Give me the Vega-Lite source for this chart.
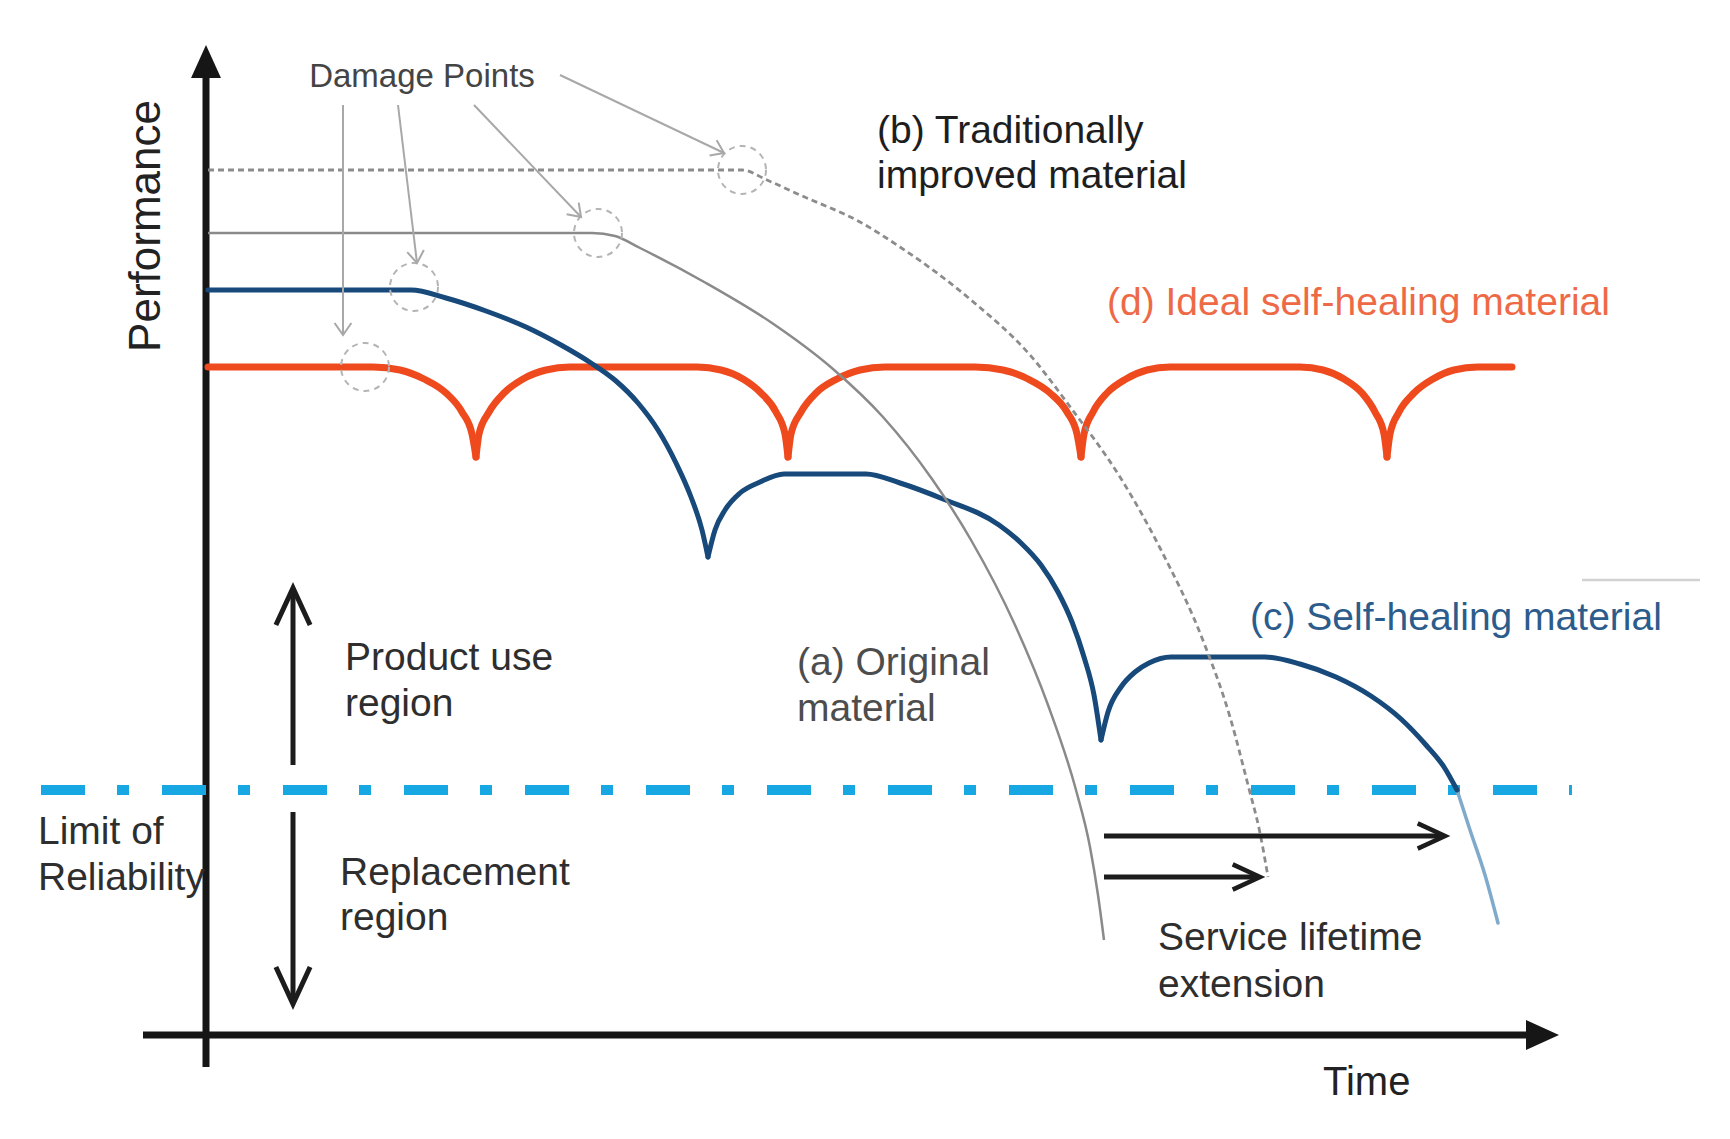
{
  "$schema": "https://vega.github.io/schema/vega-lite/v6.json",
  "width": 1730,
  "height": 1139,
  "autosize": "none",
  "padding": 0,
  "background": "white",
  "config": {"view": {"stroke": null}, "text": {"font": "Liberation Sans"}},
  "datasets": {
    "curves": [
      {"s":"d","g":1,"t":2,"p":668},{"s":"d","g":1,"t":167,"p":668},{"s":"d","g":1,"t":194,"p":665},{"s":"d","g":1,"t":218,"p":656},{"s":"d","g":1,"t":240,"p":642},{"s":"d","g":1,"t":256,"p":623},{"s":"d","g":1,"t":266,"p":601},{"s":"d","g":1,"t":270,"p":578},
      {"s":"d","g":2,"t":270,"p":578},{"s":"d","g":2,"t":273,"p":601},{"s":"d","g":2,"t":283,"p":623},{"s":"d","g":2,"t":298,"p":642},{"s":"d","g":2,"t":317,"p":656},{"s":"d","g":2,"t":340,"p":665},{"s":"d","g":2,"t":364,"p":668},{"s":"d","g":2,"t":491,"p":668},{"s":"d","g":2,"t":515,"p":665},{"s":"d","g":2,"t":537,"p":656},{"s":"d","g":2,"t":555,"p":642},{"s":"d","g":2,"t":570,"p":623},{"s":"d","g":2,"t":579,"p":601},{"s":"d","g":2,"t":582,"p":578},
      {"s":"d","g":3,"t":582,"p":578},{"s":"d","g":3,"t":585,"p":601},{"s":"d","g":3,"t":595,"p":623},{"s":"d","g":3,"t":610,"p":642},{"s":"d","g":3,"t":631,"p":656},{"s":"d","g":3,"t":654,"p":665},{"s":"d","g":3,"t":679,"p":668},{"s":"d","g":3,"t":769,"p":668},{"s":"d","g":3,"t":797,"p":665},{"s":"d","g":3,"t":822,"p":656},{"s":"d","g":3,"t":844,"p":642},{"s":"d","g":3,"t":861,"p":623},{"s":"d","g":3,"t":871,"p":601},{"s":"d","g":3,"t":875,"p":578},
      {"s":"d","g":4,"t":875,"p":578},{"s":"d","g":4,"t":878,"p":601},{"s":"d","g":4,"t":887,"p":623},{"s":"d","g":4,"t":901,"p":642},{"s":"d","g":4,"t":920,"p":656},{"s":"d","g":4,"t":941,"p":665},{"s":"d","g":4,"t":964,"p":668},{"s":"d","g":4,"t":1094,"p":668},{"s":"d","g":4,"t":1117,"p":665},{"s":"d","g":4,"t":1138,"p":656},{"s":"d","g":4,"t":1156,"p":642},{"s":"d","g":4,"t":1169,"p":623},{"s":"d","g":4,"t":1178,"p":601},{"s":"d","g":4,"t":1181,"p":578},
      {"s":"d","g":5,"t":1181,"p":578},{"s":"d","g":5,"t":1184,"p":601},{"s":"d","g":5,"t":1193,"p":623},{"s":"d","g":5,"t":1208,"p":642},{"s":"d","g":5,"t":1227,"p":656},{"s":"d","g":5,"t":1248,"p":665},{"s":"d","g":5,"t":1272,"p":668},{"s":"d","g":5,"t":1306,"p":668},

      {"s":"c","g":1,"t":2,"p":745},{"s":"c","g":1,"t":205,"p":745},{"s":"c","g":1,"t":240,"p":737},{"s":"c","g":1,"t":280,"p":724},{"s":"c","g":1,"t":320,"p":708},{"s":"c","g":1,"t":355,"p":690},{"s":"c","g":1,"t":385,"p":672},{"s":"c","g":1,"t":410,"p":654},{"s":"c","g":1,"t":432,"p":632},{"s":"c","g":1,"t":452,"p":605},{"s":"c","g":1,"t":470,"p":572},{"s":"c","g":1,"t":485,"p":538},{"s":"c","g":1,"t":496,"p":505},{"s":"c","g":1,"t":502,"p":478},
      {"s":"c","g":2,"t":502,"p":478},{"s":"c","g":2,"t":509,"p":505},{"s":"c","g":2,"t":519,"p":525},{"s":"c","g":2,"t":534,"p":542},{"s":"c","g":2,"t":554,"p":553},{"s":"c","g":2,"t":578,"p":561},{"s":"c","g":2,"t":660,"p":561},{"s":"c","g":2,"t":694,"p":552},{"s":"c","g":2,"t":737,"p":536},{"s":"c","g":2,"t":793,"p":510},{"s":"c","g":2,"t":815,"p":492},{"s":"c","g":2,"t":835,"p":470},{"s":"c","g":2,"t":852,"p":443},{"s":"c","g":2,"t":866,"p":413},{"s":"c","g":2,"t":878,"p":378},{"s":"c","g":2,"t":888,"p":340},{"s":"c","g":2,"t":895,"p":295},
      {"s":"c","g":3,"t":895,"p":295},{"s":"c","g":3,"t":902,"p":323},{"s":"c","g":3,"t":915,"p":348},{"s":"c","g":3,"t":929,"p":363},{"s":"c","g":3,"t":943,"p":372},{"s":"c","g":3,"t":965,"p":378},{"s":"c","g":3,"t":1059,"p":378},{"s":"c","g":3,"t":1094,"p":371},{"s":"c","g":3,"t":1130,"p":358},{"s":"c","g":3,"t":1165,"p":339},{"s":"c","g":3,"t":1195,"p":316},{"s":"c","g":3,"t":1220,"p":290},{"s":"c","g":3,"t":1238,"p":268},{"s":"c","g":3,"t":1251,"p":245},
      {"s":"ct","g":1,"t":1251,"p":245},{"s":"ct","g":1,"t":1264,"p":205},{"s":"ct","g":1,"t":1279,"p":160},{"s":"ct","g":1,"t":1292,"p":112},

      {"s":"a","g":1,"t":2,"p":802},{"s":"a","g":1,"t":386,"p":802},{"s":"a","g":1,"t":409,"p":799},{"s":"a","g":1,"t":434,"p":787},{"s":"a","g":1,"t":500,"p":752},{"s":"a","g":1,"t":566,"p":712},{"s":"a","g":1,"t":627,"p":666},{"s":"a","g":1,"t":677,"p":618},{"s":"a","g":1,"t":726,"p":556},{"s":"a","g":1,"t":765,"p":495},{"s":"a","g":1,"t":809,"p":410},{"s":"a","g":1,"t":842,"p":330},{"s":"a","g":1,"t":870,"p":245},{"s":"a","g":1,"t":884,"p":188},{"s":"a","g":1,"t":892,"p":140},{"s":"a","g":1,"t":898,"p":95},

      {"s":"b","g":1,"t":2,"p":865},{"s":"b","g":1,"t":536,"p":865},{"s":"b","g":1,"t":561,"p":855},{"s":"b","g":1,"t":594,"p":840},{"s":"b","g":1,"t":654,"p":813},{"s":"b","g":1,"t":694,"p":788},{"s":"b","g":1,"t":765,"p":735},{"s":"b","g":1,"t":824,"p":680},{"s":"b","g":1,"t":865,"p":627},{"s":"b","g":1,"t":914,"p":558},{"s":"b","g":1,"t":954,"p":487},{"s":"b","g":1,"t":998,"p":392},{"s":"b","g":1,"t":1024,"p":318},{"s":"b","g":1,"t":1042,"p":250},{"s":"b","g":1,"t":1054,"p":202},{"s":"b","g":1,"t":1062,"p":158}
    ],
    "circles": [{"t":159,"p":668},{"t":208,"p":748},{"t":392,"p":802},{"t":536,"p":865}],
    "pointers": [
      {"t":137,"p":930,"t2":137,"p2":700,"dir":90},
      {"t":192,"p":930,"t2":211,"p2":772,"dir":83},
      {"t":268,"p":930,"t2":375,"p2":818,"dir":46},
      {"t":354,"p":960,"t2":518,"p2":882,"dir":25}
    ],
    "axes": [{"t":0,"p":960,"t2":0,"p2":-32},{"t":-63,"p":0,"t2":1322,"p2":0}],
    "axisHeads": [{"t":0,"p":973,"dir":270},{"t":1336,"p":0,"dir":0}],
    "limit": [{"t":-165,"p":245,"t2":1366,"p2":245}],
    "frame": [{"t":1376,"p":455,"t2":1494,"p2":455}],
    "arrows": [
      {"t":87,"p":270,"t2":87,"p2":444},
      {"t":87,"p":223,"t2":87,"p2":34},
      {"t":898,"p":199,"t2":1237,"p2":199},
      {"t":898,"p":158,"t2":1052,"p2":158}
    ],
    "bigHeads": [{"t":87,"p":428,"dir":270},{"t":87,"p":50,"dir":90}],
    "smallHeads": [{"t":1225,"p":199,"dir":0},{"t":1040,"p":158,"dir":0}],
    "labels": [
      {"t":671,"p":892,"text":"(b) Traditionally","kind":"b"},
      {"t":671,"p":847,"text":"improved material","kind":"b"},
      {"t":591,"p":360,"text":"(a) Original","kind":"a"},
      {"t":591,"p":314,"text":"material","kind":"a"},
      {"t":139,"p":365,"text":"Product use","kind":"region"},
      {"t":139,"p":319,"text":"region","kind":"region"},
      {"t":134,"p":150,"text":"Replacement","kind":"region"},
      {"t":134,"p":105,"text":"region","kind":"region"},
      {"t":-168,"p":191,"text":"Limit of","kind":"region"},
      {"t":-168,"p":145,"text":"Reliability","kind":"region"},
      {"t":952,"p":85,"text":"Service lifetime","kind":"region"},
      {"t":952,"p":38,"text":"extension","kind":"region"},
      {"t":901,"p":720,"text":"(d) Ideal self-healing material","kind":"d"},
      {"t":1044,"p":405,"text":"(c) Self-healing material","kind":"c"}
    ],
    "title1": [{"t":216,"p":948,"text":"Damage Points"}],
    "title2": [{"t":1117,"p":-60,"text":"Time"}],
    "title3": [{"t":-46,"p":809,"text":"Performance"}]
  },
  "layer": [
    {
      "data": {"name": "frame"},
      "mark": {"type": "rule", "color": "#d2d2d2", "strokeWidth": 2.5},
      "encoding": {
        "x": {"field": "t", "type": "quantitative", "scale": {"domain": [-206, 1524], "nice": false, "zero": false}, "axis": null},
        "y": {"field": "p", "type": "quantitative", "scale": {"domain": [-104, 1035], "nice": false, "zero": false}, "axis": null},
        "x2": {"field": "t2"}, "y2": {"field": "p2"}
      }
    },
    {
      "data": {"name": "axes"},
      "mark": {"type": "rule", "color": "#161616", "strokeWidth": 7},
      "encoding": {
        "x": {"field": "t", "type": "quantitative", "axis": null},
        "y": {"field": "p", "type": "quantitative", "axis": null},
        "x2": {"field": "t2"}, "y2": {"field": "p2"}
      }
    },
    {
      "data": {"name": "axisHeads"},
      "mark": {"type": "point", "shape": "M1,0L-0.94,0.88L-0.94,-0.88Z", "size": 1156, "filled": true, "color": "#161616", "opacity": 1, "strokeWidth": 0},
      "encoding": {
        "x": {"field": "t", "type": "quantitative", "axis": null},
        "y": {"field": "p", "type": "quantitative", "axis": null},
        "angle": {"field": "dir", "type": "quantitative", "scale": null}
      }
    },
    {
      "data": {"name": "limit"},
      "mark": {"type": "rule", "color": "#17A8E3", "strokeWidth": 10, "strokeDash": [44, 32, 12, 33], "strokeCap": "butt"},
      "encoding": {
        "x": {"field": "t", "type": "quantitative", "axis": null},
        "y": {"field": "p", "type": "quantitative", "axis": null},
        "x2": {"field": "t2"}, "y2": {"field": "p2"}
      }
    },
    {
      "data": {"name": "curves"},
      "transform": [{"filter": "datum.s === 'd'"}],
      "mark": {"type": "line", "color": "#EF4A1E", "strokeWidth": 7, "interpolate": "monotone", "strokeCap": "round", "strokeJoin": "round"},
      "encoding": {
        "x": {"field": "t", "type": "quantitative", "axis": null},
        "y": {"field": "p", "type": "quantitative", "axis": null},
        "detail": {"field": "g", "type": "nominal"}
      }
    },
    {
      "data": {"name": "curves"},
      "transform": [{"filter": "datum.s === 'ct'"}],
      "mark": {"type": "line", "color": "#7FAACB", "strokeWidth": 3.5, "interpolate": "monotone", "strokeCap": "round"},
      "encoding": {
        "x": {"field": "t", "type": "quantitative", "axis": null},
        "y": {"field": "p", "type": "quantitative", "axis": null},
        "detail": {"field": "g", "type": "nominal"}
      }
    },
    {
      "data": {"name": "curves"},
      "transform": [{"filter": "datum.s === 'c'"}],
      "mark": {"type": "line", "color": "#17497A", "strokeWidth": 5, "interpolate": "monotone", "strokeCap": "round", "strokeJoin": "round"},
      "encoding": {
        "x": {"field": "t", "type": "quantitative", "axis": null},
        "y": {"field": "p", "type": "quantitative", "axis": null},
        "detail": {"field": "g", "type": "nominal"}
      }
    },
    {
      "data": {"name": "curves"},
      "transform": [{"filter": "datum.s === 'a'"}],
      "mark": {"type": "line", "color": "#8a8a8a", "strokeWidth": 2.5, "interpolate": "monotone"},
      "encoding": {
        "x": {"field": "t", "type": "quantitative", "axis": null},
        "y": {"field": "p", "type": "quantitative", "axis": null}
      }
    },
    {
      "data": {"name": "curves"},
      "transform": [{"filter": "datum.s === 'b'"}],
      "mark": {"type": "line", "color": "#8c8c8c", "strokeWidth": 2.8, "strokeDash": [6, 4], "interpolate": "monotone"},
      "encoding": {
        "x": {"field": "t", "type": "quantitative", "axis": null},
        "y": {"field": "p", "type": "quantitative", "axis": null}
      }
    },
    {
      "data": {"name": "circles"},
      "mark": {"type": "point", "shape": "circle", "size": 2304, "filled": false, "stroke": "#b4b4b4", "strokeWidth": 2, "strokeDash": [6, 5], "opacity": 1},
      "encoding": {
        "x": {"field": "t", "type": "quantitative", "axis": null},
        "y": {"field": "p", "type": "quantitative", "axis": null}
      }
    },
    {
      "data": {"name": "pointers"},
      "mark": {"type": "rule", "color": "#a8a8a8", "strokeWidth": 2},
      "encoding": {
        "x": {"field": "t", "type": "quantitative", "axis": null},
        "y": {"field": "p", "type": "quantitative", "axis": null},
        "x2": {"field": "t2"}, "y2": {"field": "p2"}
      }
    },
    {
      "data": {"name": "pointers"},
      "mark": {"type": "point", "shape": "M-1,-0.7L0,0L-1,0.7", "size": 576, "filled": false, "stroke": "#a8a8a8", "strokeWidth": 2, "opacity": 1},
      "encoding": {
        "x": {"field": "t2", "type": "quantitative", "axis": null},
        "y": {"field": "p2", "type": "quantitative", "axis": null},
        "angle": {"field": "dir", "type": "quantitative", "scale": null}
      }
    },
    {
      "data": {"name": "arrows"},
      "mark": {"type": "rule", "color": "#1c1c1c", "strokeWidth": 5},
      "encoding": {
        "x": {"field": "t", "type": "quantitative", "axis": null},
        "y": {"field": "p", "type": "quantitative", "axis": null},
        "x2": {"field": "t2"}, "y2": {"field": "p2"}
      }
    },
    {
      "data": {"name": "bigHeads"},
      "mark": {"type": "point", "shape": "M-0.95,-0.9L1,0L-0.95,0.9", "size": 1444, "filled": false, "stroke": "#1c1c1c", "strokeWidth": 5, "opacity": 1},
      "encoding": {
        "x": {"field": "t", "type": "quantitative", "axis": null},
        "y": {"field": "p", "type": "quantitative", "axis": null},
        "angle": {"field": "dir", "type": "quantitative", "scale": null}
      }
    },
    {
      "data": {"name": "smallHeads"},
      "mark": {"type": "point", "shape": "M-0.95,-0.9L1,0L-0.95,0.9", "size": 784, "filled": false, "stroke": "#1c1c1c", "strokeWidth": 4.5, "opacity": 1},
      "encoding": {
        "x": {"field": "t", "type": "quantitative", "axis": null},
        "y": {"field": "p", "type": "quantitative", "axis": null},
        "angle": {"field": "dir", "type": "quantitative", "scale": null}
      }
    },
    {
      "data": {"name": "labels"},
      "mark": {"type": "text", "align": "left", "baseline": "alphabetic", "fontSize": 39, "font": "Liberation Sans"},
      "encoding": {
        "x": {"field": "t", "type": "quantitative", "axis": null},
        "y": {"field": "p", "type": "quantitative", "axis": null},
        "text": {"field": "text", "type": "nominal"},
        "color": {"field": "kind", "type": "nominal", "legend": null,
          "scale": {"domain": ["b", "a", "region", "d", "c"], "range": ["#1e1e1e", "#4d4d4d", "#2e2e2e", "#EE6A46", "#2C5C8C"]}}
      }
    },
    {
      "data": {"name": "title1"},
      "mark": {"type": "text", "align": "center", "baseline": "alphabetic", "fontSize": 33, "font": "Liberation Sans", "color": "#444444"},
      "encoding": {
        "x": {"field": "t", "type": "quantitative", "axis": null},
        "y": {"field": "p", "type": "quantitative", "axis": null},
        "text": {"field": "text", "type": "nominal"}
      }
    },
    {
      "data": {"name": "title2"},
      "mark": {"type": "text", "align": "left", "baseline": "alphabetic", "fontSize": 40, "font": "Liberation Sans", "color": "#222222"},
      "encoding": {
        "x": {"field": "t", "type": "quantitative", "axis": null},
        "y": {"field": "p", "type": "quantitative", "axis": null},
        "text": {"field": "text", "type": "nominal"}
      }
    },
    {
      "data": {"name": "title3"},
      "mark": {"type": "text", "align": "center", "baseline": "alphabetic", "fontSize": 44, "angle": 270, "font": "Liberation Sans", "color": "#222222"},
      "encoding": {
        "x": {"field": "t", "type": "quantitative", "axis": null},
        "y": {"field": "p", "type": "quantitative", "axis": null},
        "text": {"field": "text", "type": "nominal"}
      }
    }
  ]
}
